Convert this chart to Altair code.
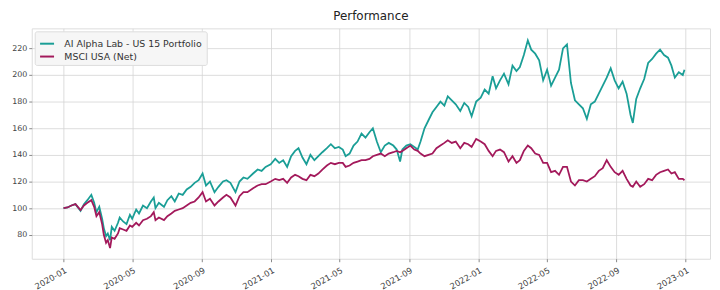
import altair as alt
import pandas as pd

dates = [
    "2020-01-01","2020-01-08","2020-01-15","2020-01-22","2020-01-31","2020-02-06","2020-02-12","2020-02-19",
    "2020-02-24","2020-02-28","2020-03-04","2020-03-09","2020-03-12","2020-03-16","2020-03-19","2020-03-23",
    "2020-03-26","2020-03-31","2020-04-06","2020-04-09","2020-04-15","2020-04-21","2020-04-27","2020-05-01",
    "2020-05-08","2020-05-13","2020-05-20","2020-05-27","2020-06-03","2020-06-08","2020-06-11","2020-06-17",
    "2020-06-26","2020-07-02","2020-07-09","2020-07-15","2020-07-22","2020-07-29","2020-08-05","2020-08-12",
    "2020-08-19","2020-08-26","2020-09-02","2020-09-08","2020-09-15","2020-09-23","2020-09-30","2020-10-08",
    "2020-10-14","2020-10-21","2020-10-30","2020-11-06","2020-11-13","2020-11-20","2020-11-30","2020-12-08",
    "2020-12-15","2020-12-22","2020-12-31","2021-01-08","2021-01-15","2021-01-22","2021-01-29","2021-02-05",
    "2021-02-12","2021-02-18","2021-02-25","2021-03-04","2021-03-11","2021-03-18","2021-03-25","2021-04-01",
    "2021-04-09","2021-04-16","2021-04-23","2021-04-30","2021-05-07","2021-05-12","2021-05-19","2021-05-26",
    "2021-06-02","2021-06-09","2021-06-16","2021-06-23","2021-06-29","2021-07-06","2021-07-13","2021-07-20",
    "2021-07-27","2021-08-04","2021-08-10","2021-08-16","2021-08-20","2021-08-27","2021-09-03","2021-09-10",
    "2021-09-16","2021-09-21","2021-09-28","2021-10-05","2021-10-12","2021-10-19","2021-10-26","2021-11-02",
    "2021-11-08","2021-11-15","2021-11-22","2021-11-30","2021-12-07","2021-12-14","2021-12-20","2021-12-28",
    "2022-01-05","2022-01-12","2022-01-19","2022-01-26","2022-02-01","2022-02-08","2022-02-15","2022-02-23",
    "2022-03-02","2022-03-09","2022-03-15","2022-03-22","2022-03-29","2022-04-04","2022-04-11","2022-04-18",
    "2022-04-25","2022-05-02","2022-05-09","2022-05-16","2022-05-23","2022-05-30","2022-06-06","2022-06-13",
    "2022-06-20","2022-06-27","2022-07-04","2022-07-11","2022-07-18","2022-07-25","2022-08-01","2022-08-08",
    "2022-08-15","2022-08-22","2022-08-29","2022-09-05","2022-09-12","2022-09-19","2022-09-26","2022-09-30",
    "2022-10-06","2022-10-13","2022-10-20","2022-10-27","2022-11-03","2022-11-10","2022-11-17","2022-11-24",
    "2022-12-01","2022-12-07","2022-12-13","2022-12-20","2022-12-27","2022-12-30",
]

portfolio = [
    100,100.5,102,103,98,103,106,110,
    104,97,101,92,85,79,81,76,
    86,83,89,93,90,88,95,92,
    99,96,102,100,105,108,100,104,
    101,106,109,105,111,110,114,116,
    119,121,126,117,120,112,116,120,
    121,119,112,120,123,122,126,129,
    128,131,133,137,134,136,131,139,
    143,145,138,133,140,136,139,142,
    145,148,145,146,144,139,141,147,
    150,156,153,157,160,150,142,147,
    149,147,144,135,144,147,148,146,
    144,150,160,166,172,176,180,177,
    184,181,178,173,179,176,169,180,
    183,189,186,199,190,196,201,193,
    207,203,206,215,226,219,216,211,
    196,204,192,198,204,220,223,194,
    181,178,175,167,178,180,186,192,
    198,205,196,190,195,186,170,164,
    182,190,197,209,212,216,219,215,
    213,207,198,202,200,204,
]

msci = [
    100,100.5,102,103,98.5,102,104,106,
    101,94,97,88,80,74,76,70,
    78,77,81,85,84,83,87,86,
    89,87,91,92,94,97,91,93,
    91,94,96,98,99,100,102,104,
    105,108,112,105,107,102,105,108,
    110,108,102,109,112,112,115,117,
    118,118,120,122,121,122,119,123,
    125,124,122,121,125,124,126,129,
    132,134,133,134,134,131,132,134,
    135,136,136,137,139,140,141,139,
    141,142,143,142,143,145,147,144,
    143,141,139,140,141,145,147,149,
    151,149,150,145,149,148,146,152,
    150,148,143,139,143,144,142,135,
    139,134,136,143,147,145,141,140,
    134,134,127,128,125,131,131,120,
    117,121,121,120,122,124,128,130,
    136,131,127,125,128,122,117,116,
    120,116,118,122,121,125,127,128,
    129,126,127,122,122,121,
]

series_names = ["AI Alpha Lab - US 15 Portfolio", "MSCI USA (Net)"]
series_colors = ["#1a9e96", "#a3195b"]
y_ticks = [80, 100, 120, 140, 160, 180, 200, 220]
x_tick_months = [(2020, 1), (2020, 5), (2020, 9), (2021, 1), (2021, 5), (2021, 9),
                 (2022, 1), (2022, 5), (2022, 9), (2023, 1)]

df = pd.concat([
    pd.DataFrame({"date": dates, "value": portfolio, "series": series_names[0]}),
    pd.DataFrame({"date": dates, "value": msci, "series": series_names[1]}),
])

font = "DejaVu Sans"

x_enc = alt.X(
    "date:T",
    title=None,
    scale=alt.Scale(domain=[alt.DateTime(year=2019, month=11, date=6),
                            alt.DateTime(year=2023, month=2, date=13)], nice=False),
    axis=alt.Axis(
        values=[alt.DateTime(year=y, month=m, date=1) for y, m in x_tick_months],
        format="%Y-%m", labelAngle=330, labelAlign="right", labelBaseline="top",
        labelFontSize=8.5, labelColor="#444444", labelFont=font, labelPadding=4,
        tickSize=3, tickColor="#888888", domain=False,
        grid=True, gridColor="#d4d4d4", gridWidth=0.8, labelOverlap=False,
    ),
)
y_enc = alt.Y(
    "value:Q",
    title=None,
    scale=alt.Scale(domain=[62, 235], nice=False, zero=False),
    axis=alt.Axis(
        values=y_ticks, labelFontSize=8, labelColor="#444444", labelFont=font,
        tickSize=3, tickColor="#888888", labelPadding=2, domain=False,
        grid=True, gridColor="#d4d4d4", gridWidth=0.8,
    ),
)
color_enc = alt.Color(
    "series:N",
    scale=alt.Scale(domain=series_names, range=series_colors),
    legend=alt.Legend(
        title=None, orient="top-left", offset=3, symbolType="stroke",
        symbolStrokeWidth=2, symbolSize=200, labelFontSize=9.5, labelFont=font,
        labelColor="#333333", fillColor="#f6f6f6", strokeColor="#dddddd",
        padding=4, cornerRadius=2, rowPadding=0, labelOffset=9,
    ),
)

base = alt.Chart(df)
line_port = base.transform_filter(alt.datum.series == series_names[0]).mark_line(
    strokeWidth=1.8).encode(x=x_enc, y=y_enc, color=color_enc)
line_msci = base.transform_filter(alt.datum.series == series_names[1]).mark_line(
    strokeWidth=1.8).encode(x=x_enc, y=y_enc, color=color_enc)

chart = alt.layer(line_port, line_msci).properties(
    width=686, height=233,
    title=alt.TitleParams("Performance", fontSize=12, font=font, fontWeight="normal",
                          color="#222222", offset=5),
    autosize=alt.AutoSizeParams(type="none"),
    padding={"left": 24, "top": 19, "right": 2, "bottom": 30},
).configure_view(fill="#efefef", stroke=None).configure(background="white")

chart.save("out.html", embed_options={"renderer": "svg", "actions": False})
